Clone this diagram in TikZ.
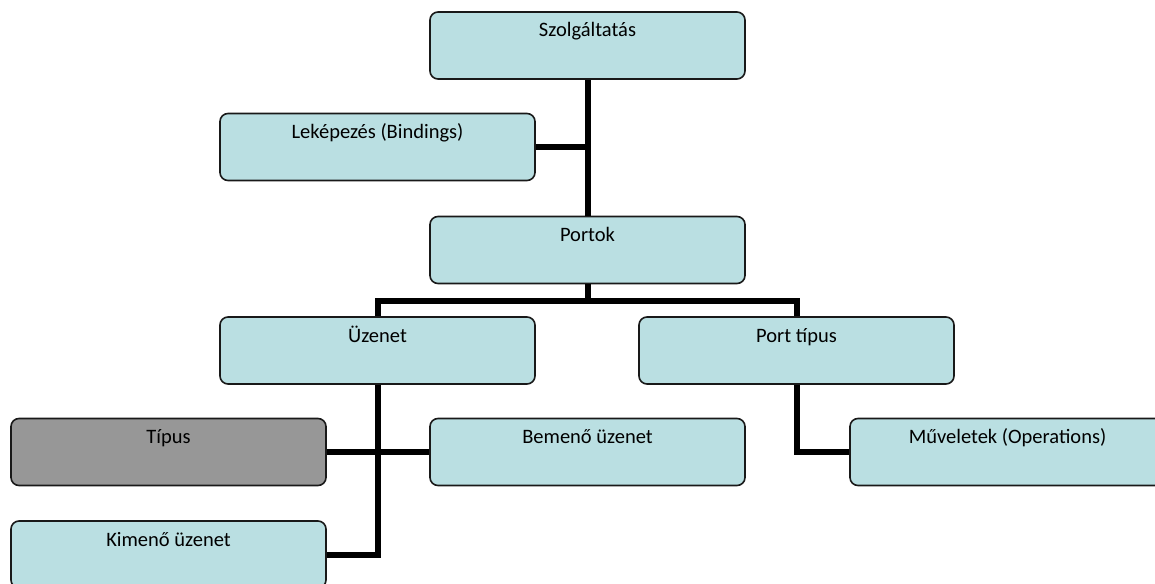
\documentclass[tikz,border=0pt]{standalone}
\usepackage{fontspec}
\setmainfont{Carlito}
\begin{document}
\begin{tikzpicture}[x=1pt,y=-1pt,
  box/.style={draw=black!90,line width=1.6pt,rounded corners=8pt,fill=boxblue,
    minimum width=315pt,minimum height=67pt,inner sep=0pt,
    text height=25pt,text depth=42pt,font=\fontsize{20.5pt}{24pt}\selectfont},
  greybox/.style={box,fill=boxgrey},
  link/.style={line width=6pt,black}]
\definecolor{boxblue}{HTML}{BADFE2}
\definecolor{boxgrey}{HTML}{979797}
\useasboundingbox (0,0) rectangle (1155,583);
\clip (0,0) rectangle (1155,583);
% hierarchy boxes
\node[box] (svc)  at (587.5,45.5) {Szolgáltatás};
\node[box] (bind) at (377.5,147)  {Leképezés (Bindings)};
\node[box] (port) at (587.5,250)  {Portok};
\node[box] (msg)  at (377.5,350.5) {Üzenet};
\node[box] (ptyp) at (796.5,350.5) {Port típus};
\node[greybox] (typ) at (168.5,452) {Típus};
\node[box] (inm)  at (587.5,452)  {Bemenő üzenet};
\node[box] (ops)  at (1007.5,452) {Műveletek (Operations)};
\node[box] (outm) at (168.5,554.5) {Kimenő üzenet};
% connectors
\draw[link] (svc.south) -- (port.north);
\draw[link] (bind.east) -- (bind.east -| svc.south);
\draw[link] (port.south) -- ++(0,17) coordinate (bus);
\draw[link] (msg.north) |- (bus) -| (ptyp.north);
\draw[link] (msg.south) |- (outm.east);
\draw[link] (typ.east) -- (inm.west);
\draw[link] (ptyp.south) |- (ops.west);
\end{tikzpicture}
\end{document}
